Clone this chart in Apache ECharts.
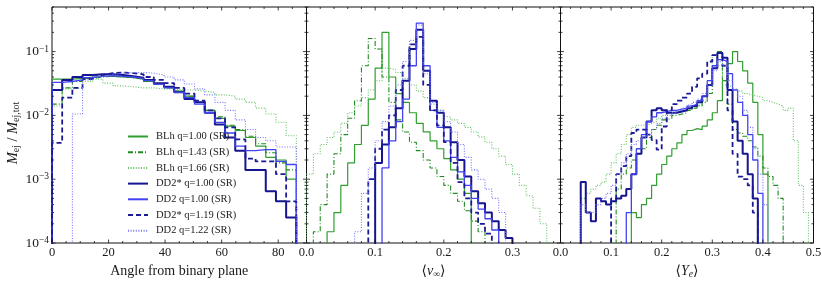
<!DOCTYPE html>
<html><head><meta charset="utf-8">
<script src="https://cdn.jsdelivr.net/npm/echarts/dist/echarts.min.js"></script>
<style>html,body{margin:0;padding:0;background:#fff}#c{width:822px;height:283px}</style>
</head><body><div id="c"></div>
<script>
// ---------- data ----------
const seriesNames = ['BLh q=1.00 (SR)', 'BLh q=1.43 (SR)', 'BLh q=1.66 (SR)', 'DD2* q=1.00 (SR)', 'DD2 q=1.00 (SR)', 'DD2* q=1.19 (SR)', 'DD2 q=1.22 (SR)'];

// Panel 1: angle from binary plane, bins of 3.6 deg starting at 0
const angleBinWidth = 3.6;
const angleStarts = [0, 0, 0, 0, 0, 0, 0];
const angle_BLh100 = [0.037, 0.037, 0.038, 0.040, 0.041, 0.041, 0.040, 0.039, 0.037, 0.034, 0.031, 0.028, 0.024, 0.020, 0.016, 0.012, 0.009, 0.0068, 0.0058, 0.0045, 0.0033, 0.0022, 0.002, 0.001];
const angle_BLh143 = [0.015, 0.027, 0.034, 0.038, 0.040, 0.041, 0.040, 0.039, 0.037, 0.034, 0.031, 0.027, 0.024, 0.020, 0.016, 0.012, 0.0095, 0.007, 0.006, 0.0047, 0.0036, 0.0026, 0.0018, 0.0014];
const angle_BLh166 = [0.014, 0.026, 0.027, 0.034, 0.037, 0.032, 0.029, 0.028, 0.027, 0.027, 0.026, 0.026, 0.025, 0.025, 0.024, 0.023, 0.021, 0.02, 0.018, 0.016, 0.013, 0.0105, 0.0078, 0.0048];
const angle_DD2s100 = [0.025, 0.036, 0.040, 0.043, 0.044, 0.044, 0.043, 0.041, 0.039, 0.036, 0.032, 0.028, 0.023, 0.018, 0.016, 0.011, 0.0072, 0.0045, 0.0028, 0.0014, 0.0014, 0.00065, 0.00045, 0.00025];
const angle_DD2100 = [0.033, 0.034, 0.036, 0.039, 0.041, 0.042, 0.041, 0.040, 0.038, 0.035, 0.031, 0.027, 0.023, 0.019, 0.015, 0.011, 0.0078, 0.0053, 0.0033, 0.0028, 0.0029, 0.0029, 0.0019, 0.0017];
const angle_DD2s119 = [0.0037, 0.019, 0.027, 0.037, 0.043, 0.046, 0.047, 0.046, 0.044, 0.040, 0.036, 0.032, 0.027, 0.022, 0.017, 0.012, 0.009, 0.0065, 0.0042, 0.0021, 0.0019, 0.0019, 0.0012, 0.00045];
const angle_DD2122 = [0, 0, 0.0105, 0.036, 0.041, 0.044, 0.046, 0.047, 0.047, 0.046, 0.043, 0.040, 0.036, 0.031, 0.026, 0.021, 0.016, 0.012, 0.0085, 0.006, 0.0045, 0.004, 0.0032, 0.0032];

// Panel 2: <v_inf>, bins of 0.01, each series starting at its own bin edge
const vinfBinWidth = 0.01;
const vinfStarts = [0.03, 0.01, 0.00, 0.10, 0.11, 0.09, 0.07];
const vinf_BLh100 = [0.00015, 0.0003, 0.0008, 0.0018, 0.0035, 0.007, 0.018, 0.055, 0.2, 0.04, 0.022, 0.016, 0.011, 0.0075, 0.0055, 0.004, 0.003, 0.0021, 0.0014, 0.001, 0.0006];
const vinf_BLh143 = [0.00015, 0.0004, 0.0012, 0.0025, 0.005, 0.009, 0.017, 0.06, 0.16, 0.11, 0.04, 0.016, 0.0085, 0.0055, 0.0038, 0.0028, 0.002, 0.0015, 0.0011, 0.0008, 0.0006, 0.00045, 0.00032, 0.00022, 0.00015];
const vinf_BLh166 = [0.0012, 0.0025, 0.0035, 0.0045, 0.0055, 0.0075, 0.011, 0.014, 0.019, 0.025, 0.035, 0.055, 0.052, 0.047, 0.038, 0.03, 0.024, 0.019, 0.015, 0.012, 0.0095, 0.0085, 0.0075, 0.0065, 0.0055, 0.0046, 0.0038, 0.003, 0.0023, 0.0017, 0.0012, 0.0008, 0.00055, 0.00035, 0.0002];
const vinf_DD2s100 = [0.0018, 0.0035, 0.0065, 0.013, 0.035, 0.11, 0.22, 0.05, 0.017, 0.011, 0.0065, 0.0038, 0.002, 0.0011, 0.00065, 0.00042, 0.0003, 0.00022, 0.00016, 0.00012];
const vinf_DD2100 = [0.0015, 0.004, 0.008, 0.018, 0.06, 0.28, 0.06, 0.012, 0.0065, 0.004, 0.0022, 0.0013, 0.0008, 0.0005, 0.00034, 0.00024, 0.00016];
const vinf_DD2s119 = [0.001, 0.003, 0.006, 0.01, 0.025, 0.06, 0.13, 0.17, 0.03, 0.012, 0.007, 0.0038, 0.0018, 0.0009, 0.0005, 0.0003, 0.0002, 0.00014];
const vinf_DD2122 = [0.00015, 0.0006, 0.0015, 0.004, 0.008, 0.014, 0.03, 0.07, 0.15, 0.26, 0.045, 0.016, 0.012, 0.008, 0.0055, 0.0035, 0.0022, 0.0014, 0.001, 0.0007, 0.0005, 0.0003];

// Panel 3: <Y_e>, bins of 0.01
const yeBinWidth = 0.01;
const yeStarts = [0.14, 0.11, 0.04, 0.04, 0.13, 0.10, 0.04];
const ye_BLh100 = [0.0003, 0.00025, 0.0004, 0.0005, 0.0008, 0.0012, 0.0017, 0.0023, 0.003, 0.0037, 0.005, 0.0058, 0.0062, 0.006, 0.0068, 0.0085, 0.011, 0.017, 0.035, 0.065, 0.1, 0.07, 0.05, 0.032, 0.016, 0.005, 0.0012];
const ye_BLh143 = [0.0007, 0.0012, 0.0015, 0.002, 0.0025, 0.003, 0.0045, 0.006, 0.007, 0.0085, 0.009, 0.01, 0.0105, 0.011, 0.012, 0.013, 0.014, 0.016, 0.022, 0.06, 0.1, 0.035, 0.015, 0.006, 0.0053, 0.0047, 0.004, 0.0032, 0.0023, 0.0015, 0.0011, 0.0008, 0.0005];
const ye_BLh166 = [0.0005, 0.0006, 0.0007, 0.0008, 0.0009, 0.0012, 0.0018, 0.0025, 0.0035, 0.005, 0.0065, 0.007, 0.007, 0.0075, 0.008, 0.009, 0.01, 0.011, 0.0115, 0.012, 0.0125, 0.013, 0.014, 0.015, 0.017, 0.03, 0.09, 0.06, 0.03, 0.028, 0.026, 0.024, 0.022, 0.021, 0.02, 0.019, 0.017, 0.016, 0.015, 0.014, 0.012, 0.013, 0.004, 0.0008, 0.0003];
const ye_DD2s100 = [0.0009, 0.0003, 0.00022, 0.0005, 0.00045, 0.0004, 0.00045, 0.0005, 0.00055, 0.0007, 0.0012, 0.0025, 0.0045, 0.008, 0.012, 0.013, 0.012, 0.011, 0.011, 0.0115, 0.012, 0.013, 0.014, 0.016, 0.02, 0.03, 0.055, 0.095, 0.08, 0.025, 0.008, 0.004, 0.0025, 0.0012, 0.0005];
const ye_DD2100 = [0.0003, 0.0012, 0.003, 0.005, 0.008, 0.0095, 0.011, 0.0115, 0.012, 0.012, 0.0125, 0.013, 0.014, 0.015, 0.017, 0.02, 0.035, 0.06, 0.075, 0.07, 0.045, 0.025, 0.016, 0.01, 0.005, 0.002, 0.0006];
const ye_DD2s119 = [0.0005, 0.0012, 0.0016, 0.0023, 0.0053, 0.006, 0.006, 0.005, 0.0041, 0.0029, 0.0067, 0.012, 0.015, 0.017, 0.019, 0.022, 0.028, 0.038, 0.045, 0.07, 0.088, 0.095, 0.06, 0.012, 0.0025, 0.0011, 0.001, 0.0008, 0.0003];
const ye_DD2122 = [0.0004, 0.0003, 0.0003, 0.0004, 0.0005, 0.0006, 0.0008, 0.0012, 0.0018, 0.0025, 0.0035, 0.004, 0.0045, 0.005, 0.006, 0.0075, 0.009, 0.01, 0.011, 0.012, 0.013, 0.0145, 0.016, 0.018, 0.022, 0.03, 0.05, 0.07, 0.06, 0.035, 0.025, 0.02, 0.012, 0.0065, 0.003, 0.0012, 0.0004];

// axis ticks
const angleMajorTicks = [0, 20, 40, 60, 80];
const vinfMajorTicks = [0, 0.1, 0.2, 0.3];
const yeMajorTicks = [0, 0.1, 0.2, 0.3, 0.4, 0.5];
const yMajorTicks = [1e-4, 1e-3, 1e-2, 1e-1];

// ---------- drawing ----------
const FONT = "'Liberation Serif','DejaVu Serif','DejaVu Sans',serif";
const TXT = '#1a1a1a';
const TINY = 1e-7;
const YMIN = 1e-4, YMAX = 0.5;

const panelData = [
  {w: angleBinWidth, starts: angleStarts, sets: [angle_BLh100, angle_BLh143, angle_BLh166, angle_DD2s100, angle_DD2100, angle_DD2s119, angle_DD2122]},
  {w: vinfBinWidth, starts: vinfStarts, sets: [vinf_BLh100, vinf_BLh143, vinf_BLh166, vinf_DD2s100, vinf_DD2100, vinf_DD2s119, vinf_DD2122]},
  {w: yeBinWidth, starts: yeStarts, sets: [ye_BLh100, ye_BLh143, ye_BLh166, ye_DD2s100, ye_DD2100, ye_DD2s119, ye_DD2122]}
];

const styles = [
  {color: '#2f9e2f', width: 1.2, type: 'solid'},
  {color: '#1f8a1f', width: 1.1, type: [5, 2, 1, 2]},
  {color: '#63c063', width: 1.1, type: [1, 1.6]},
  {color: '#15158f', width: 2.0, type: 'solid'},
  {color: '#4242f2', width: 1.3, type: 'solid'},
  {color: '#1a1a96', width: 1.8, type: [5, 3]},
  {color: '#7373ff', width: 1.1, type: [1, 1.6]}
];

const gridDefs = [
  {left: 52, top: 7, width: 254.5, height: 236},
  {left: 306.5, top: 7, width: 254, height: 236},
  {left: 560.5, top: 7, width: 253, height: 236}
];
const xRanges = [[0, 90], [0, 0.37], [0, 0.5]];
const xIntervals = [20, 0.1, 0.1];
const xMinorSteps = [5, 0.02, 0.02];
const xMajors = [angleMajorTicks, vinfMajorTicks, yeMajorTicks];

function hist(start, w, vals) {
  const pts = [[start, TINY]];
  vals.forEach((v, i) => pts.push([+(start + i * w).toFixed(5), v > 0 ? v : TINY]));
  pts.push([+(start + vals.length * w).toFixed(5), TINY]);
  return pts;
}

function tickData(g) {
  const d = [];
  const [x0, x1] = xRanges[g];
  xMajors[g].forEach(v => d.push([v, YMIN, 0]));
  const st = xMinorSteps[g];
  for (let k = 1; k * st < x1 - 1e-9; k++) {
    const v = +(k * st).toFixed(5);
    if (!xMajors[g].some(m => Math.abs(m - v) < 1e-9)) d.push([v, YMIN, 1]);
  }
  yMajorTicks.forEach(v => d.push([x0, v, 2]));
  for (let e = -4; e <= -1; e++) {
    for (let m = 2; m <= 9; m++) {
      const v = m * Math.pow(10, e);
      if (v <= YMAX) d.push([x0, v, 3]);
    }
  }
  return d;
}

function renderTicks(params, api) {
  const cs = params.coordSys;
  const kind = api.value(2);
  const p = api.coord([api.value(0), api.value(1)]);
  const len = (kind === 0 || kind === 2) ? 3.5 : 2;
  const st = {stroke: '#111', lineWidth: 0.8};
  let lines;
  if (kind < 2) {
    const x = p[0];
    lines = [[x, cs.y + cs.height, x, cs.y + cs.height - len], [x, cs.y, x, cs.y + len]];
  } else {
    const y = p[1];
    lines = [[cs.x, y, cs.x + len, y], [cs.x + cs.width, y, cs.x + cs.width - len, y]];
  }
  return {type: 'group', children: lines.map(l => ({type: 'line', shape: {x1: l[0], y1: l[1], x2: l[2], y2: l[3]}, style: st}))};
}

const grids = gridDefs.map(g => Object.assign({show: true, borderColor: '#111', borderWidth: 1, backgroundColor: 'transparent', containLabel: false, outerBoundsMode: 'none'}, g));

const xNames = [
  'Angle from binary plane',
  '{n|⟨}{i|v}{s|∞}{n|⟩}',
  '{n|⟨}{i|Y}{s|e}{n|⟩}'
];
const nameRich = {
  n: {fontFamily: FONT, fontSize: 14, color: TXT, lineHeight: 17},
  i: {fontFamily: FONT, fontSize: 14, fontStyle: 'italic', color: TXT, lineHeight: 17},
  s: {fontFamily: FONT, fontSize: 9.5, fontStyle: 'italic', color: TXT, lineHeight: 9, verticalAlign: 'bottom'}
};

const xAxes = [0, 1, 2].map(g => ({
  type: 'value', gridIndex: g, min: xRanges[g][0], max: xRanges[g][1], interval: xIntervals[g],
  axisLine: {show: false}, axisTick: {show: false}, splitLine: {show: false},
  axisLabel: {
    show: true, margin: 3, color: TXT, fontFamily: FONT, fontSize: 12.5,
    showMaxLabel: g === 2, showMinLabel: true,
    formatter: v => g === 0 ? String(Math.round(v)) : v.toFixed(1)
  },
  name: xNames[g], nameLocation: 'middle', nameGap: g === 0 ? 13 : 11,
  nameTextStyle: {fontFamily: FONT, fontSize: 14, color: TXT, rich: nameRich}
}));

const yAxes = [0, 1, 2].map(g => ({
  type: 'log', logBase: 10, gridIndex: g, min: YMIN, max: YMAX,
  axisLine: {show: false}, axisTick: {show: false}, splitLine: {show: false}, minorTick: {show: false},
  axisLabel: {
    show: g === 0, margin: 3, color: TXT, fontFamily: FONT, fontSize: 13,
    formatter: v => {
      const e = Math.round(Math.log10(v));
      if (Math.abs(v - Math.pow(10, e)) / v > 1e-6) return '';
      return '{b|10}{p|−' + (-e) + '}';
    },
    rich: {
      b: {fontFamily: FONT, fontSize: 13.5, color: TXT, lineHeight: 15},
      p: {fontFamily: FONT, fontSize: 9.5, color: TXT, lineHeight: 8, verticalAlign: 'top'}
    }
  },
  name: g === 0 ? '{i|M}{s|ej}{n| / }{i|M}{s|ej,tot}' : '',
  nameLocation: 'middle', nameRotate: 90, nameGap: 29,
  nameTextStyle: {fontFamily: FONT, fontSize: 14, color: TXT, padding: [0, 16, 0, 0], rich: {
    n: {fontFamily: FONT, fontSize: 14, color: TXT, lineHeight: 17},
    i: {fontFamily: FONT, fontSize: 14.5, fontStyle: 'italic', color: TXT, lineHeight: 17},
    s: {fontFamily: FONT, fontSize: 10, color: TXT, lineHeight: 10, verticalAlign: 'bottom'}
  }}
}));

const series = [];
[0, 1, 2].forEach(g => {
  const pd = panelData[g];
  pd.sets.forEach((vals, k) => {
    const s = styles[k];
    series.push({
      type: 'line', name: seriesNames[k], xAxisIndex: g, yAxisIndex: g,
      data: hist(pd.starts[k], pd.w, vals), step: 'end',
      symbol: 'none', showSymbol: false, clip: true, animation: false,
      color: s.color,
      lineStyle: {color: s.color, width: s.width, type: s.type},
      itemStyle: {color: s.color},
      emphasis: {disabled: true}, silent: true
    });
  });
  series.push({
    type: 'custom', name: 'ticks' + g, xAxisIndex: g, yAxisIndex: g,
    data: tickData(g), renderItem: renderTicks, silent: true, z: 5, clip: false, animation: false
  });
});

const chart = echarts.init(document.getElementById('c'), null, {renderer: 'canvas'});
chart.setOption({
  animation: false,
  backgroundColor: '#fff',
  grid: grids,
  xAxis: xAxes,
  yAxis: yAxes,
  legend: {
    data: seriesNames, orient: 'vertical', left: 127, top: 131,
    itemWidth: 20, itemHeight: 10, itemGap: 4.7, selectedMode: false,
    padding: 0,
    itemStyle: {opacity: 0, borderWidth: 0},
    textStyle: {fontFamily: FONT, fontSize: 10.5, color: TXT, lineHeight: 10, padding: [0, 0, 0, 3]}
  },
  series: series
});
</script></body></html>
